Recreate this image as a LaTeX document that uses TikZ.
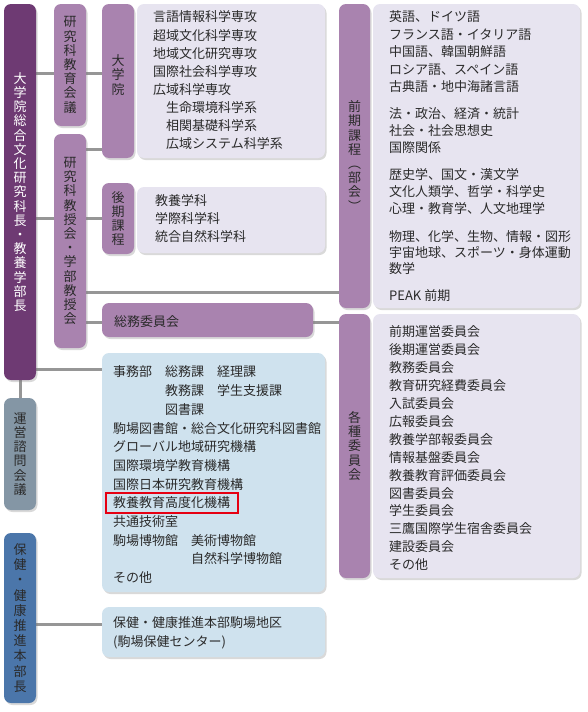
\documentclass[tikz,border=0pt]{standalone}
\usepackage{fontspec}
\setmainfont{Noto Sans CJK JP}
\usetikzlibrary{shadows,fit,backgrounds}

\definecolor{deep}{HTML}{6E3A73}
\definecolor{mid}{HTML}{A983AF}
\definecolor{lav}{HTML}{E7E4F0}
\definecolor{sky}{HTML}{CFE2EE}
\definecolor{slate}{HTML}{8496A5}
\definecolor{steel}{HTML}{4B76AA}
\definecolor{conn}{HTML}{969696}
\definecolor{ink}{HTML}{2A2A2A}
\definecolor{redbox}{HTML}{E60012}

\tikzset{
  panel/.style={rounded corners=7pt, inner sep=0pt, outer sep=0pt, anchor=north west,
    drop shadow={shadow xshift=1.5pt, shadow yshift=-2pt, opacity=0.3}},
  vlabel/.style={panel, fill=mid, text=ink, align=center, font=\fontsize{13}{14.2}\selectfont},
  txt/.style={anchor=west, inner sep=0pt, text=ink, font=\fontsize{13}{16}\selectfont,
    text height=11.4pt, text depth=1.6pt},
  link/.style={draw=conn, line width=3pt},
}

\newcommand\putlines[5]{%
  \foreach \t [count=\i from 0] in {#5} {\node[txt] (#1\i) at (#2, {#3+#4*\i}) {\t};}}

\begin{document}
\begin{tikzpicture}[x=1pt, y=-1pt]
\useasboundingbox (0,0) rectangle (588,712);

% label boxes
\node[vlabel, fill=deep, text=white, minimum width=32pt, minimum height=376pt] (A) at (4,4)
  {大\\学\\院\\総\\合\\文\\化\\研\\究\\科\\長\\・\\教\\養\\学\\部\\長};
\node[vlabel, minimum width=32pt, minimum height=122pt] (B) at (54,4)
  {研\\究\\科\\教\\育\\会\\議};
\node[vlabel, minimum width=32pt, minimum height=214pt] (C) at (54,134)
  {研\\究\\科\\教\\授\\会\\・\\学\\部\\教\\授\\会};
\node[vlabel, minimum width=32pt, minimum height=154pt] (D) at (102,4) {};
\node[align=center, inner sep=0pt, text=ink, font=\fontsize{13}{14.2}\selectfont] (Dt) at (118,75) {大\\学\\院};
\node[panel, fill=lav, minimum width=188pt, minimum height=154pt] (Dc) at (137,4) {};

\node[vlabel, minimum width=32pt, minimum height=71pt] (E) at (102,183) {後\\期\\課\\程};
\node[panel, fill=lav, minimum width=188pt, minimum height=66pt] (Ec) at (137,187) {};

\node[vlabel, minimum width=31pt, minimum height=304pt] (P) at (339,4)
  {前\\期\\課\\程\\︵\\部\\会\\︶};
\node[panel, fill=lav, minimum width=207pt, minimum height=304pt] (Pc) at (373,4) {};

\node[vlabel, minimum width=31pt, minimum height=264pt] (K) at (339,314)
  {各\\種\\委\\員\\会};
\node[panel, fill=lav, minimum width=207pt, minimum height=264pt] (Kc) at (373,314) {};

\node[panel, fill=mid, minimum width=211pt, minimum height=34pt] (S) at (102,303) {};
\node[panel, fill=sky, minimum width=223pt, minimum height=239pt] (J) at (102,353) {};

\node[vlabel, fill=slate, minimum width=32pt, minimum height=112pt] (R) at (4,398)
  {運\\営\\諮\\問\\会\\議};
\node[vlabel, fill=steel, font=\fontsize{13}{15.2}\selectfont, minimum width=32pt, minimum height=170pt] (H) at (4,533)
  {保\\健\\・\\健\\康\\推\\進\\本\\部\\長};
\node[panel, fill=sky, minimum width=223pt, minimum height=50pt] (Hc) at (102,607) {};

% connectors
\begin{scope}[on background layer]
\draw[link] (A.east |- 0,73) -- (B.west |- 0,73);
\draw[link] (B.east |- 0,73) -- (D.west |- 0,73);
\draw[link] (A.east |- 0,218) -- (C.west |- 0,218);
\draw[link] (C.east |- 0,149) -- (D.west |- 0,149);
\draw[link] (C.east |- 0,218) -- (E.west |- 0,218);
\draw[link] (C.east |- 0,292) -- (P.west |- 0,292);
\draw[link] (C.east |- 0,322) -- (S.west |- 0,322);
\draw[link] (S.east |- 0,322) -- (K.west |- 0,322);
\draw[link] (A.east |- 0,369) -- (J.west |- 0,369);
\draw[link] (A.south) -- (R.north);
\draw[link] (H.east |- 0,624) -- (Hc.west |- 0,624);
\end{scope}

% texts
\putlines{d}{153}{17}{18.1}{言語情報科学専攻,超域文化科学専攻,地域文化研究専攻,国際社会科学専攻,広域科学専攻,　生命環境科学系,　相関基礎科学系,　広域システム科学系}
\putlines{e}{155}{201}{18}{教養学科,学際科学科,統合自然科学科}
\node[txt] (s0) at (114,322) {総務委員会};

\putlines{pa}{389}{17}{17.5}{英語、ドイツ語,フランス語・イタリア語,中国語、韓国朝鮮語,ロシア語、スペイン語,古典語・地中海諸言語}
\putlines{pb}{389}{114}{17}{法・政治、経済・統計,社会・社会思想史,国際関係}
\putlines{pc}{389}{175}{17}{歴史学、国文・漢文学,文化人類学、哲学・科学史,心理・教育学、人文地理学}
\putlines{pd}{389}{237}{16}{物理、化学、生物、情報・図形,宇宙地球、スポーツ・身体運動,数学}
\node[txt] (pe) at (389,296) {PEAK 前期};

\putlines{k}{389}{332}{17.9}{前期運営委員会,後期運営委員会,教務委員会,教育研究経費委員会,入試委員会,広報委員会,教養学部報委員会,情報基盤委員会,教養教育評価委員会,図書委員会,学生委員会,三鷹国際学生宿舎委員会,建設委員会,その他}

\putlines{j}{113}{372}{18.7}{事務部　総務課　経理課,　　　　教務課　学生支援課,　　　　図書課,駒場図書館・総合文化研究科図書館,グローバル地域研究機構,国際環境学教育機構,国際日本研究教育機構,教養教育高度化機構,共通技術室,駒場博物館　美術博物館,　　　　　　自然科学博物館,その他}
\node[draw=redbox, line width=2pt, inner xsep=7.5pt, inner ysep=3.5pt, fit=(j7)] (rb) {};

\putlines{h}{113}{623}{19}{保健・健康推進本部駒場地区,(駒場保健センター)}
\end{tikzpicture}
\end{document}
